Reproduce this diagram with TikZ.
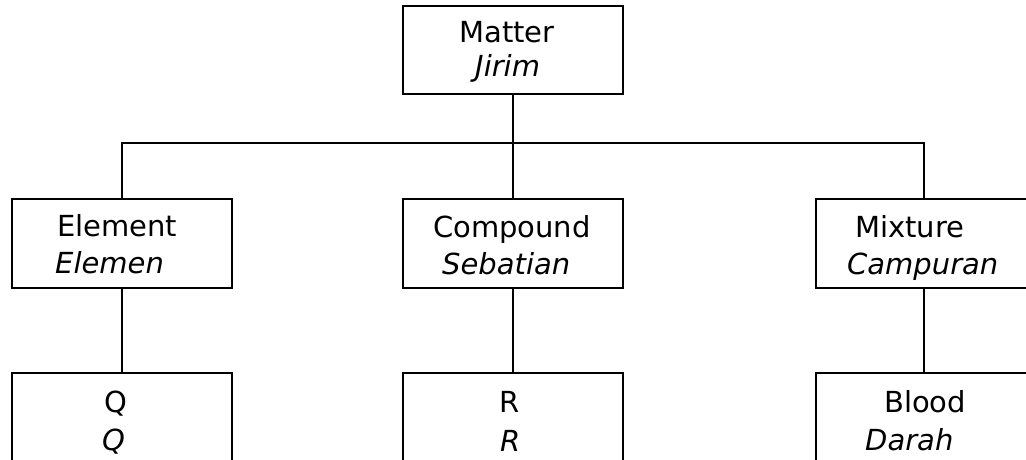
\documentclass[tikz,border=0pt]{standalone}
\usepackage{fontspec}
\setmainfont{DejaVu Sans}
\begin{document}
\begin{tikzpicture}[x=1pt,y=-1pt,
  box/.style={draw=black,line width=1.6pt,rectangle,inner sep=0pt,minimum height=89pt},
  conn/.style={draw=black,line width=1.6pt},
  lbl/.style={anchor=base west,inner sep=0pt,font=\fontsize{29}{35}\selectfont},
  ilbl/.style={lbl,font=\fontsize{29}{35}\selectfont\itshape}]
\useasboundingbox (0,0) rectangle (1026,460);
% boxes
\node[box,minimum width=220pt,minimum height=88pt] (matter) at (513,50) {};
\node[box,minimum width=220pt] (element) at (122,243.5) {};
\node[box,minimum width=220pt] (compound) at (513,243.5) {};
\node[box,minimum width=216pt] (mixture) at (924,243.5) {};
\node[box,minimum width=220pt] (q) at (122,417.5) {};
\node[box,minimum width=220pt] (r) at (513,417.5) {};
\node[box,minimum width=216pt] (blood) at (924,417.5) {};
% labels
\node[lbl] (tmatter) at (459,43) {Matter};
\node[ilbl] (tjirim) at (475,77) {Jirim};
\node[lbl] (telement) at (57,236) {Element};
\node[ilbl] (telemen) at (55,273) {Elemen};
\node[lbl] (tcompound) at (433,237) {Compound};
\node[ilbl] (tsebatian) at (442,274) {Sebatian};
\node[lbl] (tmixture) at (855,237) {Mixture};
\node[ilbl] (tcampuran) at (847,274) {Campuran};
\node[lbl] (tq) at (104,412) {Q};
\node[ilbl] (tqi) at (102,450) {Q};
\node[lbl] (tr) at (499,412) {R};
\node[ilbl] (tri) at (500,451) {R};
\node[lbl] (tblood) at (884,412) {Blood};
\node[ilbl] (tdarah) at (865,450) {Darah};
% connectors
\coordinate (bus) at (513,143);
\draw[conn] (matter.south) -- (compound.north);
\draw[conn] (element.north) -- (element.north |- bus) -- (mixture.north |- bus) -- (mixture.north);
\draw[conn] (element.south) -- (q.north);
\draw[conn] (compound.south) -- (r.north);
\draw[conn] (mixture.south) -- (blood.north);
\end{tikzpicture}
\end{document}
